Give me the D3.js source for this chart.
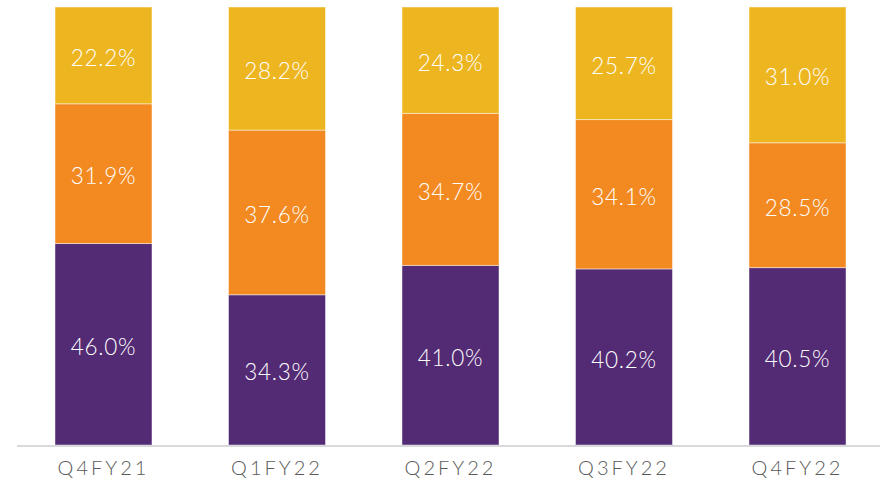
<!DOCTYPE html>
<html><head><meta charset="utf-8">
<script src="https://cdn.jsdelivr.net/npm/d3@7"></script>
<style>body{margin:0;background:#fff}svg{display:block}</style>
</head><body><svg id="c" width="882" height="484"></svg>
<script>
const categories = ["Q4FY21","Q1FY22","Q2FY22","Q3FY22","Q4FY22"];
const bottomVals = [46.0,34.3,41.0,40.2,40.5];
const middleVals = [31.9,37.6,34.7,34.1,28.5];
const topVals = [22.2,28.2,24.3,25.7,31.0];
const seriesNames = ["bottom","middle","top"];
const colors = ["#532A74","#F28A21","#EDB621"];

const svg = d3.select("#c");
const x = d3.scaleBand().domain(categories).range([55,846]).paddingInner(0.441).paddingOuter(0);
const y = d3.scaleLinear().domain([0,100]).range([445,7]);

const rows = categories.map((c,i)=>({cat:c,bottom:bottomVals[i],middle:middleVals[i],top:topVals[i]}));
const stack = d3.stack().keys(seriesNames)(rows);

const font = "Lato, 'Noto Sans', sans-serif";
const g = svg.append("g");
stack.forEach((s,si)=>{
  const layer = g.append("g");
  layer.selectAll("rect").data(s).join("rect")
    .attr("x",d=>x(d.data.cat)).attr("width",x.bandwidth())
    .attr("y",d=>Math.max(7,y(d[1]))).attr("height",d=>y(d[0])-Math.max(7,y(d[1])))
    .attr("fill",colors[si]).attr("stroke","rgba(255,255,255,0.45)").attr("stroke-width",1);
  layer.selectAll("text").data(s).join("text")
    .attr("x",d=>x(d.data.cat)+x.bandwidth()/2)
    .attr("y",d=>(Math.max(7,y(d[1]))+y(d[0]))/2)
    .attr("dy","0.47em").attr("text-anchor","middle")
    .attr("fill","#fff").attr("font-family",font).attr("font-weight",300).attr("font-size",22.5)
    .attr("letter-spacing","0.7px")
    .text(d=>(d[1]-d[0]).toFixed(1)+"%");
});

const axis = svg.append("g").attr("transform","translate(0,445)")
  .call(d3.axisBottom(x).tickSize(0).tickPadding(16));
axis.select(".domain").attr("stroke","#d9d9d9").attr("stroke-width",2).attr("d","M17,1H880");
axis.selectAll("text").attr("fill","#595959").attr("font-family",font).attr("font-weight",300)
  .attr("font-size",20).attr("letter-spacing","3px");
</script></body></html>
